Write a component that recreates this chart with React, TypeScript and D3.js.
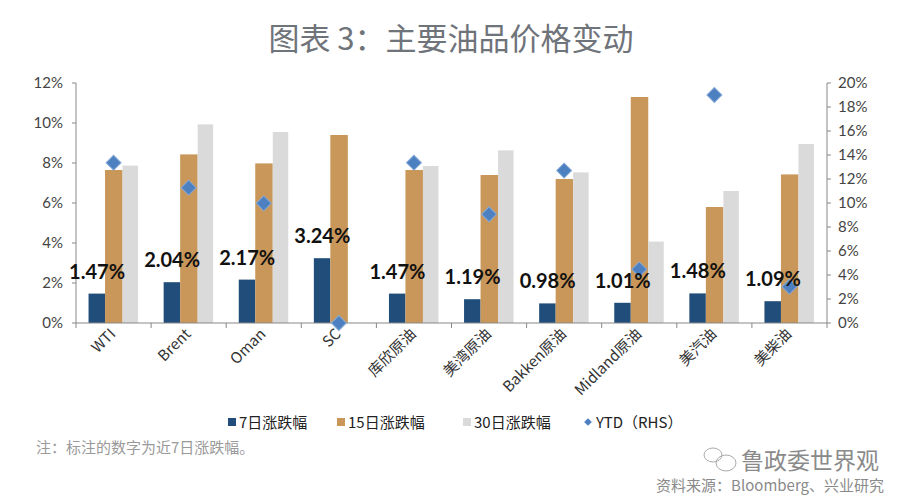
import React from "react";
import * as d3 from "d3";

const categories = ["WTI", "Brent", "Oman", "SC", "库欣原油", "美湾原油", "Bakken原油", "Midland原油", "美汽油", "美柴油"];
const chg7 = [1.47, 2.04, 2.17, 3.24, 1.47, 1.19, 0.98, 1.01, 1.48, 1.09];
const chg15 = [7.65, 8.43, 7.98, 9.4, 7.65, 7.4, 7.2, 11.3, 5.8, 7.43];
const chg30 = [7.87, 9.93, 9.55, 0, 7.85, 8.63, 7.53, 4.07, 6.6, 8.95];
const ytd = [13.36, 11.28, 9.97, 0, 13.36, 9.06, 12.7, 4.47, 19.0, 3.03];
const leftTicks = [0, 2, 4, 6, 8, 10, 12];
const rightTicks = [0, 2, 4, 6, 8, 10, 12, 14, 16, 18, 20];
const legendItems = ["7日涨跌幅", "15日涨跌幅", "30日涨跌幅", "YTD（RHS）"];

const C_DARK = "#214d7a";
const C_TAN = "#c9975a";
const C_GRAY = "#dadada";
const C_DIAMOND = "#4d80c0";

export default function App() {
  const W = 900, H = 504;
  const left = 76, right = 827, top = 83, bottom = 323;
  const x = d3.scaleBand<string>().domain(categories).range([left, right]).paddingInner(0).paddingOuter(0);
  const yL = d3.scaleLinear().domain([0, 12]).range([bottom, top]);
  const yR = d3.scaleLinear().domain([0, 20]).range([bottom, top]);
  const bw = 16.5;
  const cx = (c: string) => (x(c) as number) + x.bandwidth() / 2;
  const font = "'Noto Sans CJK SC', 'Noto Sans', sans-serif";
  const numFont = "Lato, 'Open Sans', sans-serif";
  const boundaries = d3.range(categories.length + 1).map((i) => left + i * x.bandwidth());
  const diamond = d3.symbol().type(d3.symbolSquare).size(112)();
  const legendDiamond = d3.symbol().type(d3.symbolSquare).size(30)();
  const legendX = [228, 337, 463, 585];

  return (
    <svg width={W} height={H} style={{ position: "absolute", left: 0, top: 0, background: "#fff" }}>
      <rect x={0} y={0} width={W} height={H} fill="#fff" />
      <text x={451} y={50} textAnchor="middle" fontFamily={font} fontSize={31} fontWeight={400} fill="#6f737a">
        图表 3：主要油品价格变动
      </text>

      {/* bars */}
      {categories.map((c, i) => (
        <g key={c}>
          <rect x={cx(c) - 25} y={yL(chg7[i])} width={bw} height={bottom - yL(chg7[i])} fill={C_DARK} />
          <rect x={cx(c) - 8.5} y={yL(chg15[i])} width={bw + 1} height={bottom - yL(chg15[i])} fill={C_TAN} />
          {chg30[i] > 0 && (
            <rect x={cx(c) + 9} y={yL(chg30[i])} width={bw - 1} height={bottom - yL(chg30[i])} fill={C_GRAY} />
          )}
        </g>
      ))}

      {/* axes */}
      <line x1={left} x2={left} y1={top} y2={bottom} stroke="#888" strokeWidth={1} />
      <line x1={right} x2={right} y1={top} y2={bottom} stroke="#888" strokeWidth={1} />
      <line x1={left} x2={right} y1={bottom} y2={bottom} stroke="#888" strokeWidth={1} />
      {boundaries.map((b, i) => (
        <line key={"bt" + i} x1={b} x2={b} y1={bottom} y2={bottom + 5} stroke="#888" />
      ))}
      {leftTicks.map((t) => (
        <g key={"lt" + t}>
          <line x1={left - 4} x2={left} y1={yL(t)} y2={yL(t)} stroke="#888" />
          <text x={63} y={yL(t) + 5} textAnchor="end" fontFamily={numFont} fontSize={15} fill="#444">
            {t}%
          </text>
        </g>
      ))}
      {rightTicks.map((t) => (
        <g key={"rt" + t}>
          <line x1={right} x2={right + 4} y1={yR(t)} y2={yR(t)} stroke="#888" />
          <text x={838} y={yR(t) + 5} textAnchor="start" fontFamily={numFont} fontSize={15} fill="#444">
            {t}%
          </text>
        </g>
      ))}

      {/* YTD diamonds */}
      {categories.map((c, i) => (
        <path key={"d" + c} d={diamond as string} transform={`translate(${cx(c)},${yR(ytd[i])}) rotate(45)`} fill={C_DIAMOND} stroke="#86a8d6" strokeWidth={1} />
      ))}

      {/* data labels */}
      {categories.map((c, i) => (
        <text key={"l" + c} x={cx(c) - 16.5} y={yL(chg7[i]) - 15} textAnchor="middle" fontFamily={numFont} fontWeight={700} fontSize={20} fill="#111">
          {chg7[i].toFixed(2)}%
        </text>
      ))}

      {/* x labels */}
      {categories.map((c) => (
        <text key={"x" + c} transform={`translate(${cx(c) + 3},${bottom + 12}) rotate(-45)`} textAnchor="end" fontFamily={font} fontSize={15} fill="#333">
          {c}
        </text>
      ))}

      {/* legend */}
      {legendItems.map((t, i) => (
        <g key={"lg" + t}>
          {i < 3 ? (
            <rect x={legendX[i]} y={418} width={8} height={8} fill={[C_DARK, C_TAN, C_GRAY][i]} />
          ) : (
            <path d={legendDiamond as string} transform={`translate(${legendX[i] + 3},422) rotate(45)`} fill={C_DIAMOND} />
          )}
          <text x={legendX[i] + 11} y={428} fontFamily={font} fontSize={15} fill="#222">
            {t}
          </text>
        </g>
      ))}

      {/* note */}
      <text x={36} y={453} fontFamily={font} fontSize={15} fill="#9a9a9a">
        注：标注的数字为近7日涨跌幅。
      </text>

      {/* watermark */}
      <g fill="none" stroke="#aaa" strokeWidth={1}>
        <ellipse cx={713} cy={455} rx={9} ry={7} />
        <ellipse cx={726} cy={463} rx={10} ry={8} />
      </g>
      <text x={741} y={469} fontFamily={font} fontSize={23} fill="#8a8a8a">
        鲁政委世界观
      </text>
      <text x={884} y={491} textAnchor="end" fontFamily={font} fontSize={15} fill="#8a8a8a">
        资料来源：Bloomberg、兴业研究
      </text>
    </svg>
  );
}
